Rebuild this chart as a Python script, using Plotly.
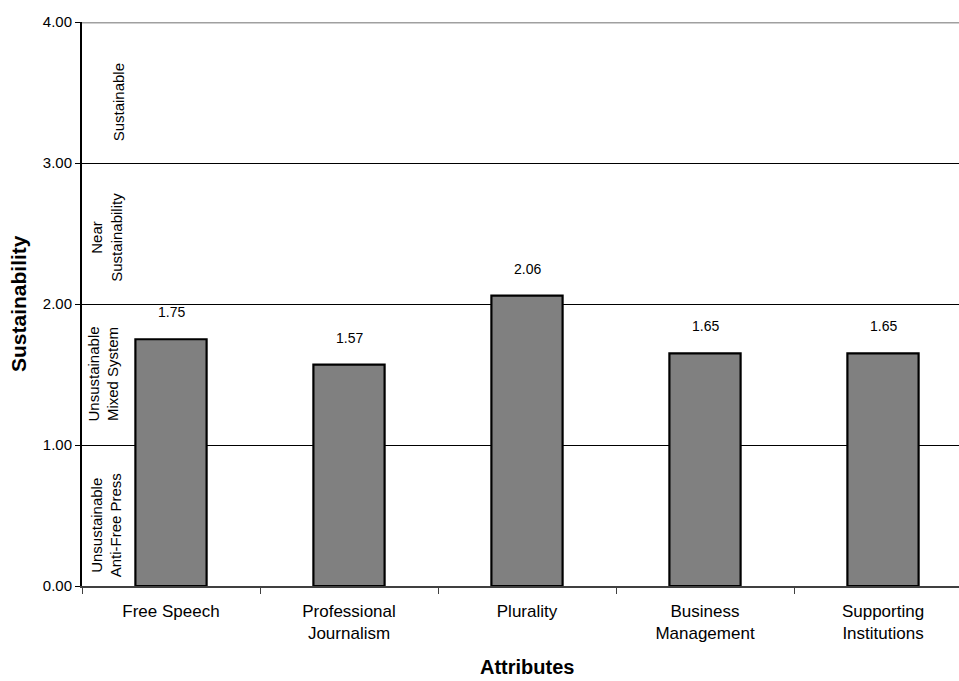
import plotly.graph_objects as go

# Attribute scores
categories = ["Free Speech", "Professional<br>Journalism", "Plurality",
              "Business<br>Management", "Supporting<br>Institutions"]
scores = [1.75, 1.57, 2.06, 1.65, 1.65]
y_ticks = [0, 1, 2, 3, 4]
y_tick_labels = ["0.00", "1.00", "2.00", "3.00", "4.00"]

# Rating bands written along the left edge
band_texts = ["Sustainable", "Near<br>Sustainability",
              "Unsustainable<br>Mixed System", "Unsustainable<br>Anti-Free Press"]
band_centers = [3.43, 2.47, 1.5, 0.43]
band_px = [118, 107, 103, 106]

FONT = "Liberation Sans, Arial, sans-serif"
PLOT_LEFT, PLOT_W, PLOT_H = 82, 877, 564

fig = go.Figure()
fig.add_trace(go.Bar(
    x=categories, y=scores, width=0.40,
    marker=dict(color="#808080", line=dict(color="black", width=2.2)),
    showlegend=False, hoverinfo="x+y",
))

# value labels above bars
for c, v in zip(categories, scores):
    fig.add_annotation(x=c, y=v, text=f"{v:.2f}", showarrow=False,
                       yanchor="bottom", yshift=17,
                       font=dict(family=FONT, size=14, color="black"))

for t, yc, px in zip(band_texts, band_centers, band_px):
    fig.add_annotation(xref="paper", x=(px - PLOT_LEFT) / PLOT_W, xanchor="center",
                       y=yc, yanchor="middle", text=t, textangle=-90,
                       showarrow=False, align="center",
                       font=dict(family=FONT, size=15, color="black"))

# top border at 4.00
fig.add_shape(type="line", xref="paper", x0=0, x1=1, yref="y", y0=4, y1=4,
              line=dict(color="#a0a0a0", width=3), layer="above")

fig.add_annotation(xref="paper", yref="paper", x=(18 - PLOT_LEFT) / PLOT_W, y=0.5,
                   xanchor="center", yanchor="middle",
                   text="<b>Sustainability</b>", textangle=-90, showarrow=False,
                   font=dict(family=FONT, size=21, color="black"))
fig.add_annotation(xref="paper", yref="paper", x=(527 - PLOT_LEFT) / PLOT_W,
                   y=-(680 - 586) / PLOT_H, xanchor="center", yanchor="bottom",
                   text="<b>Attributes</b>", showarrow=False,
                   font=dict(family=FONT, size=20, color="black"))

fig.update_layout(
    width=959, height=681,
    margin=dict(l=82, r=0, t=22, b=95),
    plot_bgcolor="white", paper_bgcolor="white",
    font=dict(family=FONT, color="black"),
    bargap=0.6,
    xaxis=dict(
        type="category", range=[-0.5, 4.5 - 13 / 178],
        showline=True, linecolor="#404040", linewidth=1.5,
        ticks="outside", tickson="boundaries", ticklen=6, tickcolor="#404040",
        ticklabelstandoff=9,
        tickfont=dict(family=FONT, size=17, color="black"),
        showgrid=False, zeroline=False,
    ),
    yaxis=dict(
        range=[0, 4], tickvals=y_ticks, ticktext=y_tick_labels,
        showline=True, linecolor="black", linewidth=2,
        ticks="outside", ticklen=5, tickcolor="black",
        tickfont=dict(family=FONT, size=15, color="black"),
        showgrid=True, gridcolor="black", gridwidth=1, zeroline=False,
    ),
)

fig.write_html("out.html")
